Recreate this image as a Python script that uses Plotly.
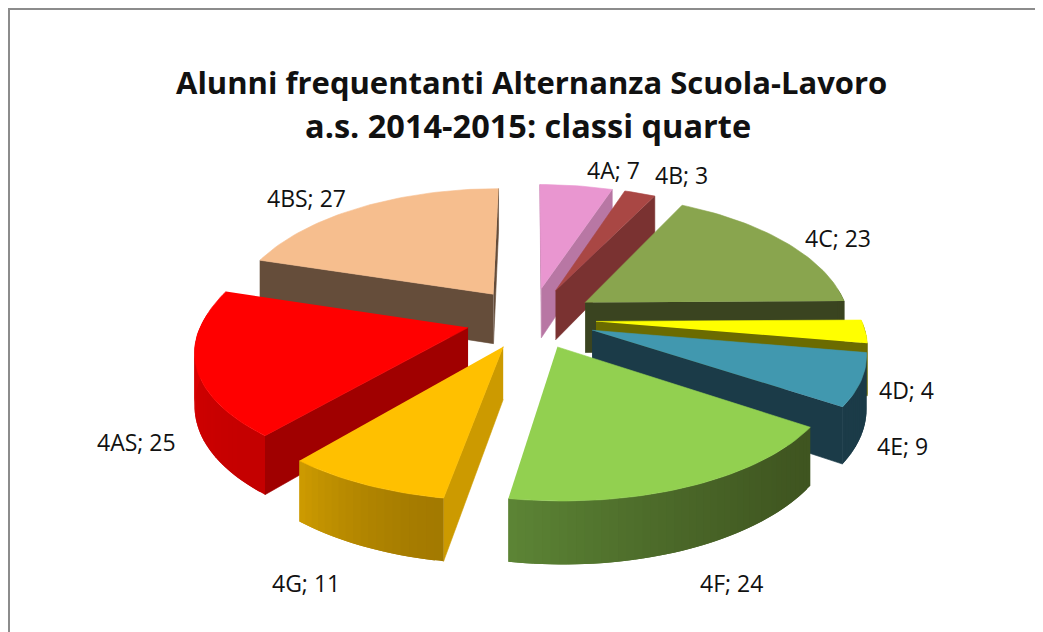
import numpy as np
import plotly.graph_objects as go

# ---- data ----
categories = ["4A", "4B", "4C", "4D", "4E", "4F", "4G", "4AS", "4BS"]
values = [7, 3, 23, 4, 9, 24, 11, 25, 27]
top_colors = ["#E996D0", "#A94744", "#89A54E", "#FFFF00", "#4198AF", "#92D050", "#FFC000", "#FF0000", "#F6BE8E"]
radial_colors = ["#B877A4", "#7A3231", "#3A4420", "#6B6B00", "#1B3B48", "#3F5520", "#CC9A00", "#A00000", "#654D3A"]
outer_from = ["#B877A4", "#7A3231", "#3A4420", "#6B6B00", "#1B3B48", "#3F5520", "#A37A00", "#C40000", "#654D3A"]
outer_to = ["#B877A4", "#7A3231", "#3A4420", "#6B6B00", "#1B3B48", "#5C8435", "#CC9A00", "#E00000", "#654D3A"]
label_x = [613, 681, 838, 906, 902, 731, 306, 136, 306]
label_y = [170, 175, 238, 390, 446, 583, 583, 442, 198]
title_lines = ["Alunni frequentanti Alternanza Scuola-Lavoro", "a.s. 2014-2015: classi quarte"]
title_sizes = [31, 32.5]

# ---- projection constants ----
CX, CY, R, EXPL, K_BACK, K_FRONT, DEPTH, H = 531.0, 319.0, 265.0, 65.0, 0.49, 0.45, 1650.0, 51.0


def project(X, Y, Z):
    w = 1.0 / (1.0 - Y / DEPTH)
    k = np.where(np.asarray(Y) < 0, K_BACK, K_FRONT)
    return CX + w * X, CY + w * k * Y + Z * H * w


def hexmix(a, b, t):
    ca = [int(a[i:i + 2], 16) for i in (1, 3, 5)]
    cb = [int(b[i:i + 2], 16) for i in (1, 3, 5)]
    return "rgb(%d,%d,%d)" % tuple(round(x + (y - x) * t) for x, y in zip(ca, cb))


fig = go.Figure()


def poly(xs, ys, color, lw=0.6):
    fig.add_trace(go.Scatter(x=[float(v) for v in xs], y=[float(v) for v in ys], mode="lines",
                             fill="toself", fillcolor=color,
                             line=dict(color=color, width=lw), hoverinfo="skip", showlegend=False))


total = sum(values)
ends = np.cumsum(values) / total * 2 * np.pi
starts = np.concatenate([[0.0], ends[:-1]])
mids = (starts + ends) / 2
order = np.argsort(-np.cos(mids))  # back-most first

for i in order:
    a0, a1, m = starts[i], ends[i], mids[i]
    ox, oy = EXPL * np.sin(m), -EXPL * np.cos(m)
    th = np.linspace(a0, a1, max(6, int((a1 - a0) * 40)))
    rx, ry = ox + R * np.sin(th), oy - R * np.cos(th)
    # radial walls, when they face the viewer
    for ang, sign in ((a0, 1), (a1, -1)):
        ex, ey = ox + R * np.sin(ang), oy - R * np.cos(ang)
        p = [project(ox, oy, 0), project(ex, ey, 0), project(ex, ey, 1), project(ox, oy, 1)]
        xs, ys = zip(*p)
        area = sum(xs[j] * ys[(j + 1) % 4] - xs[(j + 1) % 4] * ys[j] for j in range(4))
        if area * sign < 0:
            poly(xs, ys, radial_colors[i])
    # outer wall, strip by strip; each strip reaches over the next to hide the seams
    vis = [j for j in range(len(th) - 1) if -np.cos((th[j] + th[j + 1]) / 2) > -0.12]
    for n, j in enumerate(vis):
        t = (n / max(1, len(vis) - 1)) ** 1.5
        k = vis[-1] + 1 if n == len(vis) - 1 else j + 2
        idx = list(range(j, k + 1))
        tx0, ty0 = project(rx[idx], ry[idx], 0)
        tx1, ty1 = project(rx[idx], ry[idx], 1)
        poly(np.concatenate([tx0, tx1[::-1]]), np.concatenate([ty0, ty1[::-1]]),
             hexmix(outer_from[i], outer_to[i], t), lw=0)
    # top face
    tx, ty = project(np.concatenate([[ox], rx]), np.concatenate([[oy], ry]), 0)
    poly(tx, ty, top_colors[i])

annotations = [dict(x=x, y=y, text=f"{c}; {v}", showarrow=False, xanchor="center", yanchor="middle",
                    font=dict(family="Open Sans", size=23, color="#111111"))
               for c, v, x, y in zip(categories, values, label_x, label_y)]
annotations += [dict(x=x, y=y, text=t, showarrow=False, xanchor="center", yanchor="middle",
                     font=dict(family="Open Sans", size=s, color="#111111", weight="bold"))
                for t, s, x, y in zip(title_lines, title_sizes, (531, 528), (82, 125))]

shapes = [dict(type="line", x0=8, x1=1043, y0=9, y1=9, line=dict(color="#8C8C8C", width=2)),
          dict(type="line", x0=9, x1=9, y0=9, y1=632, line=dict(color="#8C8C8C", width=2))]

# the page keeps 8 px of body margin, so the plot covers 8..1043 and 8..632 of the window
fig.update_layout(width=1035, height=624, margin=dict(l=0, r=0, t=0, b=0),
                  paper_bgcolor="white", plot_bgcolor="white",
                  xaxis=dict(range=[8, 1043], visible=False, fixedrange=True),
                  yaxis=dict(range=[632, 8], visible=False, fixedrange=True),
                  annotations=annotations, shapes=shapes, showlegend=False)
fig.write_html("out.html", config={"displayModeBar": False})
